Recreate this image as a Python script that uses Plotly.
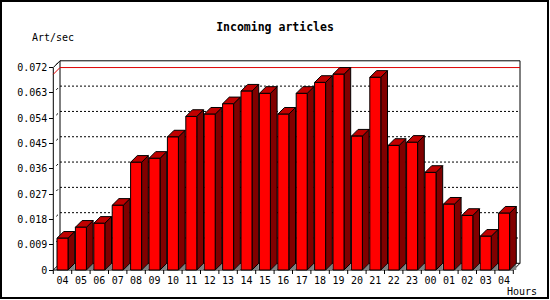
import plotly.graph_objects as go

# ---------------- data ----------------
hours = ["04", "05", "06", "07", "08", "09", "10", "11", "12", "13", "14", "15",
         "16", "17", "18", "19", "20", "21", "22", "23", "00", "01", "02", "03", "04"]
art_per_sec = [0.0113, 0.0152, 0.0166, 0.0230, 0.0383, 0.0397, 0.0473, 0.0546,
               0.0554, 0.0591, 0.0636, 0.0628, 0.0554, 0.0628, 0.0667, 0.0696,
               0.0476, 0.0685, 0.0443, 0.0454, 0.0347, 0.0234, 0.0194, 0.0120,
               0.0202]
y_ticks = [0, 0.009, 0.018, 0.027, 0.036, 0.045, 0.054, 0.063, 0.072]
y_ticktext = ["0", "0.009", "0.018", "0.027", "0.036", "0.045", "0.054", "0.063", "0.072"]
title = "Incoming articles"
y_title = "Art/sec"
x_title = "Hours"

# ---------------- geometry (pixels) ----------------
W, H = 550, 300
ML, MR, MT, MB = 40, 20, 40, 10
X0, SLOT = 53.3, 18.4          # front left of x axis, width of a category slot
Y0, K = 270.0, 2812.5          # front baseline, px per unit of value
DEPTH = 6.7                    # 3D depth offset in px
HALF = 5.5                     # half width of bar front face in px
PW, PH = W - ML - MR, H - MT - MB

def u_of_px(px):
    return (px - X0) / SLOT - 0.5

def v_of_py(py):
    return (Y0 - py) / K

xrange = [u_of_px(ML), u_of_px(W - MR)]
yrange = [v_of_py(H - MB), v_of_py(MT)]
DX = DEPTH / SLOT
DY = DEPTH / K
HW = HALF / SLOT
n = len(hours)
ymax = y_ticks[-1]
xl, xr = -0.5, n - 0.5

fig = go.Figure()

def poly_trace(xs, ys, fill, line_color="black", width=1):
    return go.Scatter(x=xs, y=ys, mode="lines", fill="toself", fillcolor=fill,
                      line=dict(color=line_color, width=width), hoverinfo="skip",
                      showlegend=False)

def line_trace(xs, ys, color="black", width=1, dash="solid"):
    return go.Scatter(x=xs, y=ys, mode="lines", line=dict(color=color, width=width, dash=dash),
                      hoverinfo="skip", showlegend=False, connectgaps=False)

# back wall gridlines (dotted)
gx, gy = [], []
for t in y_ticks[1:-1]:
    gx += [xl + DX, xr + DX, None]
    gy += [t + DY, t + DY, None]
fig.add_trace(line_trace(gx, gy, dash="2px,2px"))

# frame: back box, front axis, baseline, corner diagonals
fx = [xl + DX, xr + DX, xr + DX, xl + DX, xl + DX, None,
      xl, xl, None,
      xl, xr, None,
      xl, xl + DX, None,
      xr, xr + DX, None,
      xl, xl + DX]
fy = [DY, DY, ymax + DY, ymax + DY, DY, None,
      0, ymax, None,
      0, 0, None,
      0, DY, None,
      0, DY, None,
      ymax, ymax + DY]
fig.add_trace(line_trace(fx, fy))

# small 3D tick slashes between front axis and back wall
sx, sy = [], []
for t in y_ticks[1:]:
    sx += [xl + 0.45 * DX, xl + 0.7 * DX, None]
    sy += [t + 0.45 * DY, t + 0.7 * DY, None]
fig.add_trace(line_trace(sx, sy))

# x-axis boundary ticks
tx, ty = [], []
for i in range(n + 1):
    tx += [xl + i, xl + i, None]
    ty += [0, -4 / K, None]
fig.add_trace(line_trace(tx, ty))

# max line (red)
vmax = max(art_per_sec)
fig.add_trace(line_trace([xl, xl + DX, xr + DX], [vmax, vmax + DY, vmax + DY], color="#dd0000"))

# shadows on floor
shx, shy = [], []
for i, v in enumerate(art_per_sec):
    c = i
    shx += [c + HW, c + HW + DX, c + HW + DX, c + HW, None]
    shy += [0, DY, 0, 0, None]
fig.add_trace(poly_trace(shx, shy, "#808080", line_color="rgba(0,0,0,0)", width=0))

# bars
frx, fry, sdx, sdy, tpx, tpy = [], [], [], [], [], []
for i, v in enumerate(art_per_sec):
    c = i
    frx += [c - HW, c + HW, c + HW, c - HW, c - HW, None]
    fry += [0, 0, v, v, 0, None]
    sdx += [c + HW, c + HW + DX, c + HW + DX, c + HW, c + HW, None]
    sdy += [0, DY, v + DY, v, 0, None]
    tpx += [c - HW, c + HW, c + HW + DX, c - HW + DX, c - HW, None]
    tpy += [v, v, v + DY, v + DY, v, None]
fig.add_trace(poly_trace(sdx, sdy, "#800000"))
fig.add_trace(poly_trace(tpx, tpy, "#c00000"))
fig.add_trace(poly_trace(frx, fry, "#ff0000"))

mono = "DejaVu Sans Mono"
fig.update_layout(
    width=W, height=H,
    margin=dict(l=ML, r=MR, t=MT, b=MB, pad=0),
    paper_bgcolor="white", plot_bgcolor="white",
    showlegend=False,
    title=dict(text="<b>" + title + "</b>", x=0.5, xref="container", xanchor="center",
               y=1 - 27 / H, yref="container", yanchor="middle",
               font=dict(family=mono, size=11.5, color="black")),
    xaxis=dict(range=xrange, showgrid=False, zeroline=False, showline=False,
               tickmode="array", tickvals=list(range(n)), ticktext=hours,
               ticks="outside", ticklen=1, tickcolor="rgba(0,0,0,0)",
               anchor="free", position=(H - MB - Y0) / PH,
               tickfont=dict(family=mono, size=10, color="black")),
    yaxis=dict(range=yrange, showgrid=False, zeroline=False, showline=False,
               tickmode="array", tickvals=y_ticks, ticktext=y_ticktext,
               ticks="outside", ticklen=4, tickcolor="black", tickwidth=1,
               anchor="free", position=(X0 - ML) / PW,
               tickfont=dict(family=mono, size=10, color="black")),
    annotations=[
        dict(text=y_title, xref="paper", yref="paper", x=(29.5 - ML) / PW,
             y=(H - MB - 37.3) / PH, xanchor="left", yanchor="middle", showarrow=False,
             font=dict(family=mono, size=10, color="black")),
        dict(text=x_title, xref="paper", yref="paper", x=(505 - ML) / PW,
             y=(H - MB - 291) / PH, xanchor="left", yanchor="middle", showarrow=False,
             font=dict(family=mono, size=10, color="black")),
    ],
    shapes=[
        dict(type="rect", xref="paper", yref="paper",
             x0=(1 - ML) / PW, x1=(548 - ML) / PW,
             y0=(H - MB - 298) / PH, y1=(H - MB - 1) / PH,
             line=dict(color="black", width=2), fillcolor="rgba(0,0,0,0)"),
    ],
)

fig.write_html("out.html")
